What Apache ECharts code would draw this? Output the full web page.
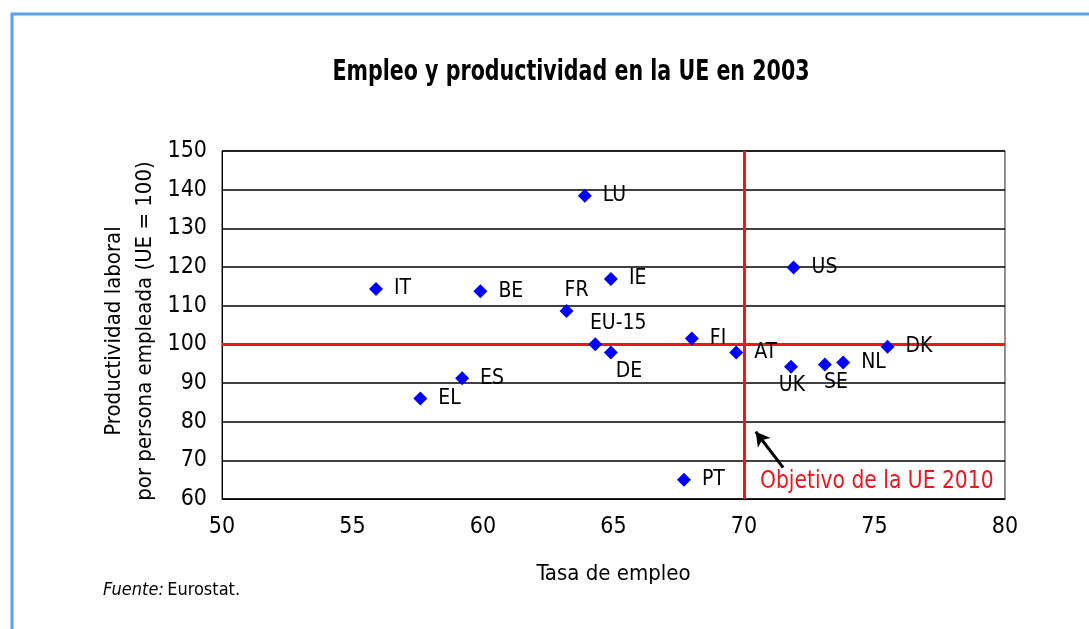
<!DOCTYPE html>
<html><head><meta charset="utf-8">
<script src="https://cdn.jsdelivr.net/npm/echarts@6/dist/echarts.min.js"></script>
<style>html,body{margin:0;padding:0;background:#fff}#c{width:1089px;height:629px}</style>
</head><body><div id="c"></div>
<script>
// ---- data ----
const countries = ['LU','IT','BE','IE','FR','EU-15','DE','FI','AT','US','UK','SE','NL','DK','ES','EL','PT'];
const employmentRate = [63.9,55.9,59.9,64.9,63.2,64.3,64.9,68.0,69.7,71.9,71.8,73.1,73.8,75.5,59.2,57.6,67.7];
const productivity = [138.4,114.3,113.7,116.9,108.6,100.0,97.9,101.5,97.9,119.9,94.2,94.8,95.3,99.4,91.2,86.0,65.0];
const xTicks = [50,55,60,65,70,75,80];
const yTicks = [60,70,80,90,100,110,120,130,140,150];
const targetRate = 70;      // Objetivo de la UE 2010
const euLevel = 100;        // UE = 100
const arrowFrom = [71.5, 68.1];
const arrowTo = [70.45, 77.4];

// ---- style ----
const FONT = '"DejaVu Sans Condensed","Liberation Sans",sans-serif';
const RED = '#f0141e';
const labelStyle = {
  'FR':   {position:'top', distance:3, offset:[10,0]},
  'EU-15':{position:'top', distance:3, offset:[23,0]},
  'DE':   {position:'bottom', distance:2, offset:[18,0]},
  'UK':   {position:'bottom', distance:1, offset:[1,0]},
  'SE':   {position:'bottom', distance:1, offset:[11,0]}
};

const points = countries.map((c,i)=>{
  const o = {name:c, value:[employmentRate[i], productivity[i]]};
  if (labelStyle[c]) o.label = labelStyle[c];
  return o;
});

const chart = echarts.init(document.getElementById('c'), null, {renderer:'canvas'});
chart.setOption({
  backgroundColor:'#fff',
  animation:false,
  textStyle:{fontFamily:FONT},
  grid:{left:222, top:151, right:84, bottom:130, show:true, borderColor:'#222', borderWidth:1, backgroundColor:'transparent'},
  xAxis:{
    type:'value', min:xTicks[0], max:xTicks[xTicks.length-1], interval:5,
    name:'Tasa de empleo', nameLocation:'middle', nameGap:64,
    nameTextStyle:{fontFamily:FONT, fontSize:22, color:'#000'},
    axisLine:{show:true, lineStyle:{color:'#000', width:1}},
    axisTick:{show:false},
    axisLabel:{fontFamily:FONT, fontSize:23, color:'#000', margin:17},
    splitLine:{show:false}
  },
  yAxis:{
    type:'value', min:yTicks[0], max:yTicks[yTicks.length-1], interval:10,
    axisLine:{show:true, lineStyle:{color:'#000', width:1}},
    axisTick:{show:false},
    axisLabel:{fontFamily:FONT, fontSize:23, color:'#000', margin:15},
    splitLine:{show:true, lineStyle:{color:'#000', width:1.6}}
  },
  graphic:[
    {type:'rect', shape:{x:12, y:14, width:1200, height:800}, style:{fill:'none', stroke:'#5a9ef5', lineWidth:3}, silent:true, z:-1},
    {type:'text', x:571, y:72, scaleX:0.79,
     style:{text:'Empleo y productividad en la UE en 2003', fontFamily:FONT, fontSize:29, fontWeight:'bold', fill:'#000', align:'center', verticalAlign:'middle'}},
    {type:'text', x:130, y:331, rotation:Math.PI/2,
     style:{text:'Productividad laboral\npor persona empleada (UE = 100)', fontFamily:FONT, fontSize:22, lineHeight:31, fill:'#000', align:'center', verticalAlign:'middle'}},
    {type:'text', x:760, y:482, scaleX:0.94,
     style:{text:'Objetivo de la UE 2010', fontFamily:FONT, fontSize:24, fill:RED, align:'left', verticalAlign:'middle'}, z:10},
    {type:'text', x:103, y:590,
     style:{rich:{i:{fontStyle:'italic', fontFamily:FONT, fontSize:18, fill:'#000'}, n:{fontFamily:FONT, fontSize:18, fill:'#000'}},
            text:'{i|Fuente:} {n|Eurostat.}', verticalAlign:'middle'}}
  ],
  series:[
    {
      type:'scatter', data:points, symbol:'diamond', symbolSize:14,
      itemStyle:{color:'#0000ff', opacity:1},
      label:{show:true, position:'right', distance:11, formatter:'{b}', fontFamily:FONT, fontSize:21, color:'#000'},
      z:5,
      markLine:{
        silent:true, symbol:['none','none'], animation:false,
        label:{show:false},
        lineStyle:{color:RED, width:3, type:'solid'},
        data:[{yAxis:euLevel},{xAxis:targetRate}],
        z:3
      }
    },
    {
      type:'scatter', data:[],
      markLine:{
        silent:true, symbol:['none','arrow'], symbolSize:[12,14], animation:false,
        label:{show:false},
        lineStyle:{color:'#000', width:3, type:'solid'},
        data:[[{coord:arrowFrom},{coord:arrowTo}]]
      }
    }
  ]
});
</script></body></html>
